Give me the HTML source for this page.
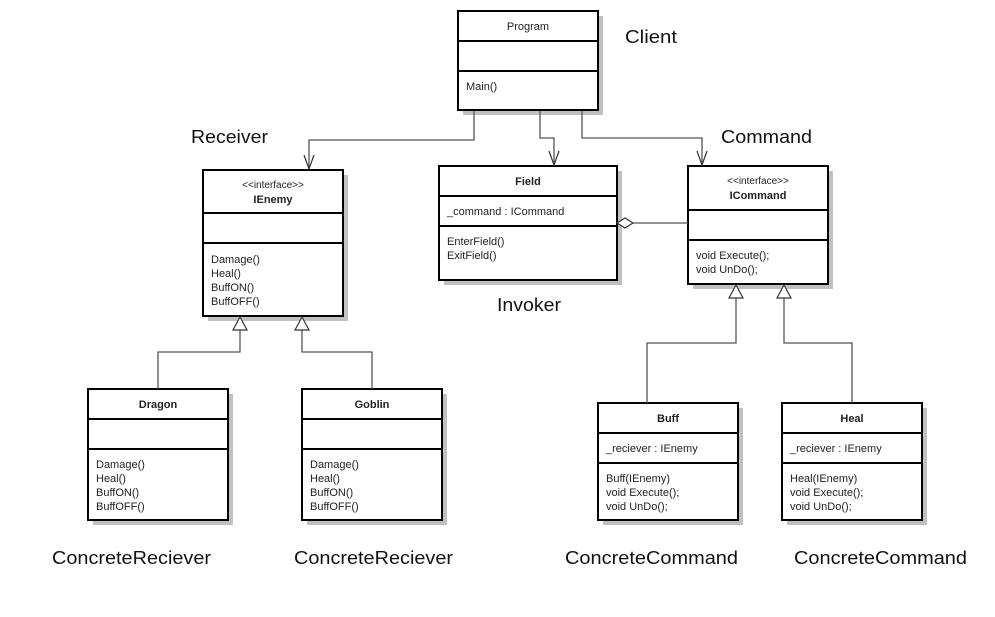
<!DOCTYPE html>
<html><head><meta charset="utf-8"><style>
html,body{margin:0;padding:0;background:#fff;}
svg{display:block;}
text{font-family:"Liberation Sans",Arial,sans-serif;fill:#222;}
.s{font-size:11px;}
.b{font-size:11px;font-weight:bold;}
.l{font-size:18px;fill:#111;}
</style></head><body>
<svg width="995" height="617" viewBox="0 0 995 617" xmlns="http://www.w3.org/2000/svg">
<g fill="#c0c0c0">
<rect x="463" y="16" width="140" height="99"/>
<rect x="208" y="175" width="140" height="146"/>
<rect x="444" y="171" width="178" height="114"/>
<rect x="693" y="171" width="140" height="118"/>
<rect x="93" y="394" width="140" height="131"/>
<rect x="307" y="394" width="140" height="131"/>
<rect x="603" y="408" width="140" height="117"/>
<rect x="787" y="408" width="140" height="117"/>
</g>
<g fill="#fff" stroke="#000" stroke-width="2">
<rect x="458" y="11" width="140" height="99"/>
<rect x="203" y="170" width="140" height="146"/>
<rect x="439" y="166" width="178" height="114"/>
<rect x="688" y="166" width="140" height="118"/>
<rect x="88" y="389" width="140" height="131"/>
<rect x="302" y="389" width="140" height="131"/>
<rect x="598" y="403" width="140" height="117"/>
<rect x="782" y="403" width="140" height="117"/>
</g>
<g stroke="#000" stroke-width="2">
<line x1="458" y1="41" x2="598" y2="41"/><line x1="458" y1="71" x2="598" y2="71"/>
<line x1="203" y1="213" x2="343" y2="213"/><line x1="203" y1="243" x2="343" y2="243"/>
<line x1="439" y1="196" x2="617" y2="196"/><line x1="439" y1="226" x2="617" y2="226"/>
<line x1="688" y1="210" x2="828" y2="210"/><line x1="688" y1="240" x2="828" y2="240"/>
<line x1="88" y1="419" x2="228" y2="419"/><line x1="88" y1="449" x2="228" y2="449"/>
<line x1="302" y1="419" x2="442" y2="419"/><line x1="302" y1="449" x2="442" y2="449"/>
<line x1="598" y1="433" x2="738" y2="433"/><line x1="598" y1="463" x2="738" y2="463"/>
<line x1="782" y1="433" x2="922" y2="433"/><line x1="782" y1="463" x2="922" y2="463"/>
</g>
<!-- connectors -->
<g fill="none" stroke="#555" stroke-width="1.3">
<polyline points="474,111 474,140 309,140 309,169"/>
<polyline points="540,111 540,138 554,138 554,165"/>
<polyline points="582,111 582,138 702,138 702,165"/>
<line x1="633" y1="223" x2="688" y2="223"/>
<polyline points="736,298 736,343 647,343 647,403"/>
<polyline points="784,298 784,343 852,343 852,403"/>
<polyline points="240,330 240,352 158,352 158,389"/>
<polyline points="302,330 302,352 372,352 372,389"/>
</g>
<g fill="none" stroke="#333" stroke-width="1.2">
<polyline points="304,155 309,169 314,155"/>
<polyline points="549,151 554,165 559,151"/>
<polyline points="697,151 702,165 707,151"/>
</g>
<g fill="#fff" stroke="#333" stroke-width="1.2">
<polygon points="617,223 625,218 633,223 625,228"/>
<polygon points="736,285 729,298 743,298"/>
<polygon points="784,285 777,298 791,298"/>
<polygon points="240,317 233,330 247,330"/>
<polygon points="302,317 295,330 309,330"/>
</g>
<!-- box text -->
<text class="s" x="528" y="30" text-anchor="middle">Program</text>
<text class="s" x="466" y="90">Main()</text>
<text class="s" x="273" y="188" text-anchor="middle" style="font-size:10px">&lt;&lt;interface&gt;&gt;</text>
<text class="b" x="273" y="203" text-anchor="middle">IEnemy</text>
<text class="s" x="211" y="263">Damage()</text>
<text class="s" x="211" y="277">Heal()</text>
<text class="s" x="211" y="291">BuffON()</text>
<text class="s" x="211" y="305">BuffOFF()</text>
<text class="b" x="528" y="185" text-anchor="middle">Field</text>
<text class="s" x="447" y="215">_command : ICommand</text>
<text class="s" x="447" y="245">EnterField()</text>
<text class="s" x="447" y="259">ExitField()</text>
<text class="s" x="758" y="184" text-anchor="middle" style="font-size:10px">&lt;&lt;interface&gt;&gt;</text>
<text class="b" x="758" y="199" text-anchor="middle">ICommand</text>
<text class="s" x="696" y="259">void Execute();</text>
<text class="s" x="696" y="273">void UnDo();</text>
<text class="b" x="158" y="408" text-anchor="middle">Dragon</text>
<text class="s" x="96" y="468">Damage()</text>
<text class="s" x="96" y="482">Heal()</text>
<text class="s" x="96" y="496">BuffON()</text>
<text class="s" x="96" y="510">BuffOFF()</text>
<text class="b" x="372" y="408" text-anchor="middle">Goblin</text>
<text class="s" x="310" y="468">Damage()</text>
<text class="s" x="310" y="482">Heal()</text>
<text class="s" x="310" y="496">BuffON()</text>
<text class="s" x="310" y="510">BuffOFF()</text>
<text class="b" x="668" y="422" text-anchor="middle">Buff</text>
<text class="s" x="606" y="452">_reciever : IEnemy</text>
<text class="s" x="606" y="482">Buff(IEnemy)</text>
<text class="s" x="606" y="496">void Execute();</text>
<text class="s" x="606" y="510">void UnDo();</text>
<text class="b" x="852" y="422" text-anchor="middle">Heal</text>
<text class="s" x="790" y="452">_reciever : IEnemy</text>
<text class="s" x="790" y="482">Heal(IEnemy)</text>
<text class="s" x="790" y="496">void Execute();</text>
<text class="s" x="790" y="510">void UnDo();</text>
<!-- labels -->
<text class="l" x="625" y="43" textLength="52" lengthAdjust="spacingAndGlyphs">Client</text>
<text class="l" x="191" y="143" textLength="77" lengthAdjust="spacingAndGlyphs">Receiver</text>
<text class="l" x="721" y="143" textLength="91" lengthAdjust="spacingAndGlyphs">Command</text>
<text class="l" x="497" y="311" textLength="64" lengthAdjust="spacingAndGlyphs">Invoker</text>
<text class="l" x="52" y="564" textLength="159" lengthAdjust="spacingAndGlyphs">ConcreteReciever</text>
<text class="l" x="294" y="564" textLength="159" lengthAdjust="spacingAndGlyphs">ConcreteReciever</text>
<text class="l" x="565" y="564" textLength="173" lengthAdjust="spacingAndGlyphs">ConcreteCommand</text>
<text class="l" x="794" y="564" textLength="173" lengthAdjust="spacingAndGlyphs">ConcreteCommand</text>
</svg>
</body></html>
